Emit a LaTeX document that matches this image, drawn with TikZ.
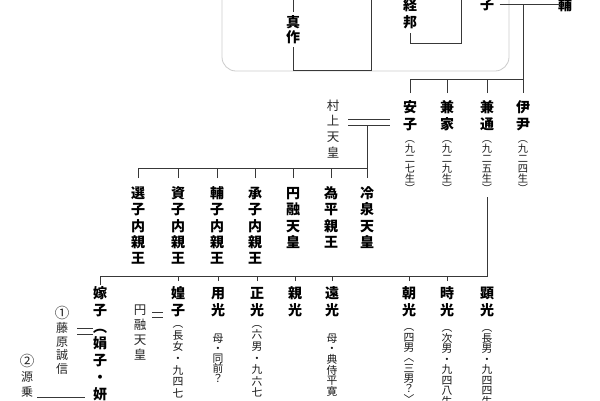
\documentclass[tikz,border=0pt]{standalone}
\usepackage{fontspec}
\newfontfamily\cjk{Noto Sans CJK JP}
\ExplSyntaxOn
\dim_new:N \l_vt_pitch_dim
\NewDocumentCommand\vtext{m m}{
  \dim_set:Nn \l_vt_pitch_dim {#1}
  \vbox{\offinterlineskip
    \tl_map_inline:nn {#2}{
      \hbox to 1em {\hss
        \vrule height \dim_eval:n {0.5\l_vt_pitch_dim + 0.38em} depth \dim_eval:n {0.5\l_vt_pitch_dim - 0.38em} width 0pt
        ##1\hss}
    }
  }
}
\ExplSyntaxOff
\newcommand\bigc[1]{{\fontsize{14.5}{14.5}\selectfont #1}}
\tikzset{
  ln/.style={draw=black!78, line width=0.8pt},
  nm/.style={anchor=north, inner xsep=0pt, font=\cjk\bfseries\fontsize{14}{14}\selectfont, text=black},
  ann/.style={anchor=north, inner sep=0pt, font=\cjk\fontsize{10.2}{10.2}\selectfont, text=black!90},
  annb/.style={anchor=north, inner sep=0pt, font=\cjk\fontsize{10.8}{10.8}\selectfont, text=black!90},
  gt/.style={anchor=north, inner sep=0pt, font=\cjk\fontsize{12.5}{12.5}\selectfont, text=black!85},
  gts/.style={anchor=north, inner sep=0pt, font=\cjk\fontsize{12}{12}\selectfont, text=black!85},
}
\begin{document}
\begin{tikzpicture}[x=1pt,y=-1pt]
\useasboundingbox (0,0) rectangle (600,400);
\fill[white] (0,0) rectangle (600,400);
% frame
\draw[draw=black!20, line width=0.8pt, rounded corners=14pt] (222,-30) rectangle (509,71);
% top row
\node[nm, inner ysep=2.5pt] (shinsaku) at (293,12) {\vtext{15pt}{真作}};
\node[nm, inner ysep=2.5pt] (keihou) at (410,-6) {\vtext{17pt}{経邦}};
\node[nm, anchor=center, inner sep=0pt] (ko) at (487,4) {\vtext{15pt}{子}};
\node[nm, anchor=center, inner sep=0pt] (ho) at (565,5) {\vtext{15pt}{輔}};
\coordinate (s1) at (293,-5);
\coordinate (s2) at (371,70);
\coordinate (s3) at (371,-5);
\coordinate (k2) at (461,43);
\coordinate (k3) at (461,-5);
\coordinate (j0) at (523,4);
\coordinate (bus2) at (523,79);
\draw[ln] (shinsaku.north) -- (s1);
\draw[ln] (shinsaku.south) |- (s2) -- (s3);
\draw[ln] (keihou.south) |- (k2) -- (k3);
\draw[ln, shorten <=5.5pt, shorten >=5.5pt] (ko) -- (ho |- ko);
% row 2
\node[nm, inner ysep=5.75pt] (anshi) at (410,93) {\vtext{16.5pt}{安子}};
\node[nm, inner ysep=5.75pt] (kaneie) at (447,93) {\vtext{16.5pt}{兼家}};
\node[nm, inner ysep=5.75pt] (kanemichi) at (487,93) {\vtext{16.5pt}{兼通}};
\node[nm, inner ysep=5.75pt] (koretada) at (523,93) {\vtext{16.5pt}{伊尹}};
\node[ann] (anshiA) at (410,133) {\vtext{10pt}{︵九二七生︶}};
\node[ann] (kaneieA) at (447,133) {\vtext{10pt}{︵九二九生︶}};
\node[ann] (kanemichiA) at (487,133) {\vtext{10pt}{︵九二五生︶}};
\node[ann] (koretadaA) at (523,133) {\vtext{10pt}{︵九二四生︶}};
\draw[ln] (j0) -- (koretada.north);
\draw[ln] (anshi.north) |- (bus2);
\draw[ln] (kaneie.north) -- (kaneie.north |- bus2);
\draw[ln] (kanemichi.north) -- (kanemichi.north |- bus2);
% Murakami
\node[gt] (murakami) at (333,97.2) {\vtext{15.7pt}{村上天皇}};
\coordinate (mA) at (367,119);
\coordinate (mB) at (367,125);
\coordinate (bus3) at (367,168);
\draw[ln, shorten <=8.75pt, shorten >=13pt] (murakami.east |- mA) -- (anshi.west |- mA);
\draw[ln, shorten <=8.75pt, shorten >=13pt] (murakami.east |- mB) -- (anshi.west |- mB);
% row 3
\node[nm, inner ysep=6.85pt] (senshi) at (138,178) {\vtext{16.3pt}{選子内親王}};
\node[nm, inner ysep=6.85pt] (shishi) at (178,178) {\vtext{16.3pt}{資子内親王}};
\node[nm, inner ysep=6.85pt] (hoshi) at (217,178) {\vtext{16.3pt}{輔子内親王}};
\node[nm, inner ysep=6.85pt] (shoshi) at (255,178) {\vtext{16.3pt}{承子内親王}};
\node[nm, inner ysep=6.85pt] (enyu) at (293,178) {\vtext{16.3pt}{円融天皇}};
\node[nm, inner ysep=6.85pt] (tamehira) at (331,178) {\vtext{16.3pt}{為平親王}};
\node[nm, inner ysep=6.85pt] (reizei) at (367,178) {\vtext{16.3pt}{冷泉天皇}};
\draw[ln] (mB) -- (reizei.north);
\draw[ln] (senshi.north) |- (bus3);
\foreach \n in {shishi,hoshi,shoshi,enyu,tamehira}
  \draw[ln] (\n.north) -- (\n.north |- bus3);
% row 4
\coordinate (bus4) at (487,276);
\node[nm, inner ysep=0pt] (kako) at (100,284.6) {\vtext{16.8pt}{嫁子︵娟子・妍}};
\node[nm, inner ysep=3.5pt] (kouko) at (178,281) {\vtext{17pt}{媓子}};
\node[nm, inner ysep=3.5pt] (mochimitsu) at (218,281) {\vtext{17pt}{用光}};
\node[nm, inner ysep=3.5pt] (masamitsu) at (257,281) {\vtext{17pt}{正光}};
\node[nm, inner ysep=3.5pt] (chikamitsu) at (295,281) {\vtext{17pt}{親光}};
\node[nm, inner ysep=3.5pt] (toomitsu) at (332,281) {\vtext{17pt}{遠光}};
\node[nm, inner ysep=3.5pt] (asateru) at (409,281) {\vtext{17pt}{朝光}};
\node[nm, inner ysep=3.5pt] (tokimitsu) at (447,281) {\vtext{17pt}{時光}};
\node[nm, inner ysep=3.5pt] (akimitsu) at (487,281) {\vtext{17pt}{顕光}};
\draw[ln, shorten <=4pt] (kanemichiA.south) -- (bus4) -| (kako.north);
\foreach \n in {kouko,mochimitsu,masamitsu,chikamitsu,toomitsu,asateru,tokimitsu}
  \draw[ln] (\n.north) -- (\n.north |- bus4);
\node[annb] (koukoA) at (178,317.2) {\vtext{11.7pt}{︵長女・九四七}};
\node[annb] (mochimitsuA) at (218,333) {\vtext{10pt}{母・同前？}};
\node[annb] (masamitsuA) at (257,317.2) {\vtext{11.6pt}{︵六男・九六七}};
\node[annb] (toomitsuA) at (332,332.7) {\vtext{10.6pt}{母・典侍平寛}};
\node[annb] (asateruA) at (409,321.5) {\vtext{10.3pt}{︵四男︿三男？﹀}};
\node[annb] (tokimitsuA) at (447,322.2) {\vtext{10.5pt}{︵次男・九四八生}};
\node[annb] (akimitsuA) at (487,322.2) {\vtext{10.5pt}{︵長男・九四四生}};
% spouses row 4
\node[gt] (enyu4) at (140,302.5) {\vtext{15pt}{円融天皇}};
\coordinate (e1) at (158,312);
\coordinate (e2) at (158,317);
\draw[ln, shorten <=6pt, shorten >=8pt] (enyu4.east |- e1) -- (kouko.west |- e1);
\draw[ln, shorten <=6pt, shorten >=8pt] (enyu4.east |- e2) -- (kouko.west |- e2);
\node[gts] (fujiwara) at (62,306.1) {\vtext{13.8pt}{{\bigc{①}}藤原誠信}};
\coordinate (f1) at (85,328);
\coordinate (f2) at (85,334);
\draw[ln, shorten <=9pt, shorten >=0pt] (fujiwara.east |- f1) -- (kako.west |- f1);
\draw[ln, shorten <=9pt, shorten >=0pt] (fujiwara.east |- f2) -- (kako.west |- f2);
\node[gts] (minamoto) at (27,354.5) {\vtext{15pt}{{\bigc{②}}源乗}};
\coordinate (g1) at (60,397);
\draw[ln, shorten <=4pt, shorten >=8pt] (minamoto.east |- g1) -- (kako.west |- g1);
\end{tikzpicture}
\end{document}
